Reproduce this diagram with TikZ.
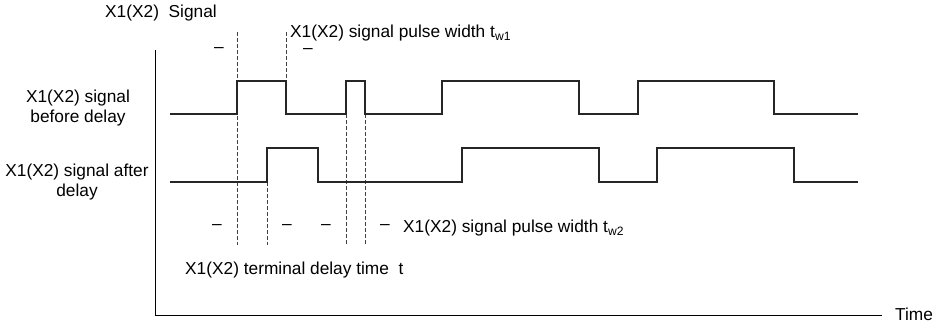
\documentclass[tikz,border=0pt]{standalone}
\usepackage{fontspec}
\setmainfont{Liberation Sans}
\begin{document}
\begin{tikzpicture}[x=1pt,y=-1pt,
  lbl/.style={inner sep=0pt,font=\fontsize{17.3}{20}\selectfont},
  guide/.style={dash pattern=on 4pt off 2pt,line width=0.9pt,black!75},
  wave/.style={line width=1.2pt,black!85}]
  \useasboundingbox (0,0) rectangle (941,324);
  % axes
  \draw[line width=1pt] (155,50) -- (155,315) -- (882,315);
  \node[lbl,anchor=west] (time) at (895,314) {Time};
  % dashed guides
  \draw[guide] (237,32) -- (237,245);
  \draw[guide] (286,32) -- (286,81);
  \draw[guide] (267,182) -- (267,245);
  \draw[guide] (346,114) -- (346,245);
  \draw[guide] (365,114) -- (365,245);
  % signal before delay
  \draw[wave] (170,114) -| (237,81) -| (286,114) -| (346,81) -| (365,114)
    -| (442,81) -| (579,114) -| (638,81) -| (774,114) -- (858,114);
  % signal after delay
  \draw[wave] (170,182) -| (267,148) -| (318,182) -| (462,148) -| (599,182)
    -| (657,148) -| (794,182) -- (858,182);
  % labels
  \node[lbl,anchor=west] (title) at (105,13) {X1(X2)\ \ Signal};
  \node[lbl,anchor=west] (tw1) at (290,33) {X1(X2) signal pulse width t\textsubscript{w1}};
  \node[lbl,align=center] (before) at (78,108) {X1(X2) signal\\before delay};
  \node[lbl,align=center] (after) at (77,182) {X1(X2) signal after\\delay};
  \node[lbl,anchor=west] (tw2) at (403,228) {X1(X2) signal pulse width t\textsubscript{w2}};
  \node[lbl,anchor=west] (delay) at (185,270) {X1(X2) terminal delay time\ \ t};
  \foreach \x/\y [count=\i] in {219/50,308/51,217/227,287/227,326/227,385/227}
    \node[lbl] (dash\i) at (\x,\y) {–};
\end{tikzpicture}
\end{document}
